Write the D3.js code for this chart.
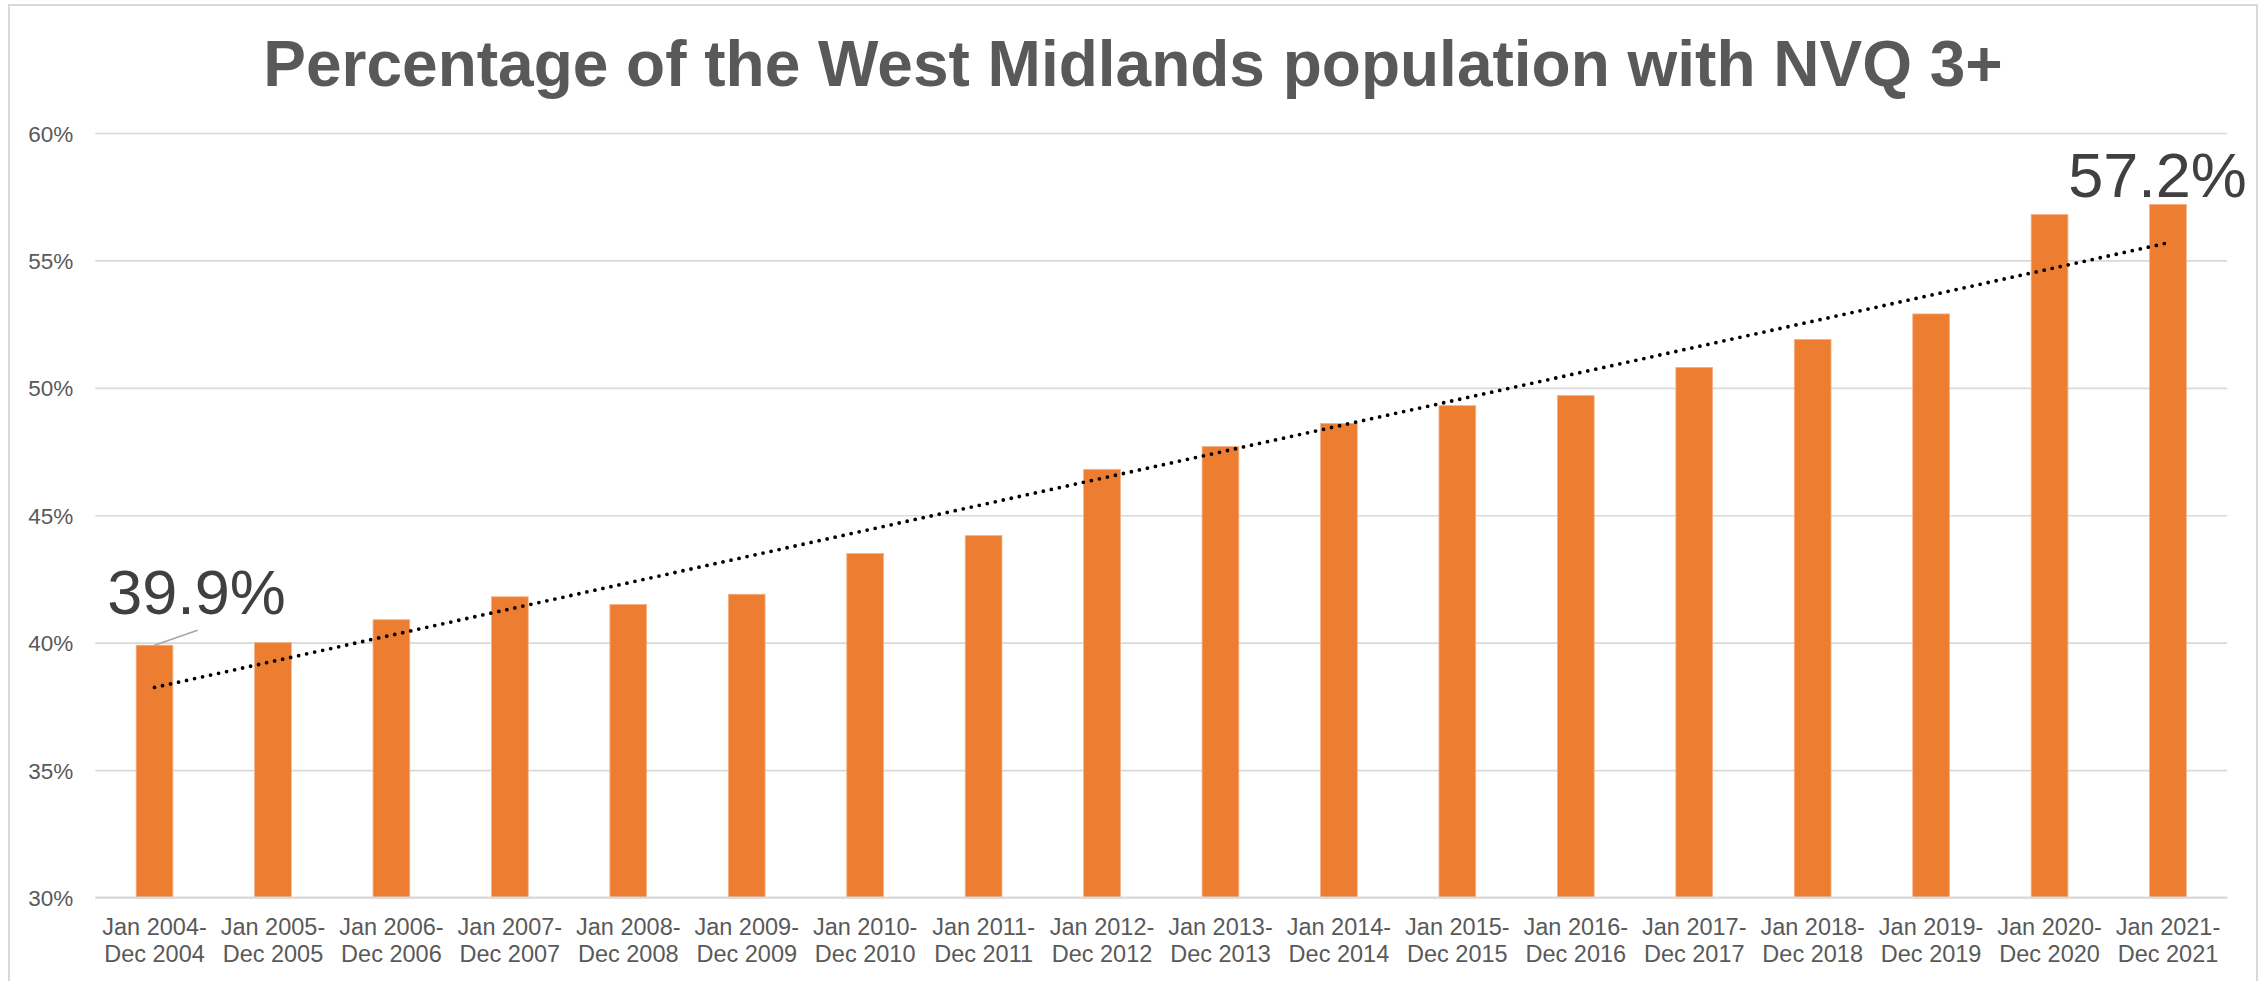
<!DOCTYPE html>
<html>
<head>
<meta charset="utf-8">
<script src="https://cdn.jsdelivr.net/npm/d3@7"></script>
<style>
  html, body { margin: 0; padding: 0; background: #ffffff; }
  svg { display: block; font-family: "Liberation Sans", Arial, sans-serif; }
</style>
</head>
<body>
<svg id="chart" width="2265" height="981"></svg>
<script>
// ---- data ----
const categories = [
  "Jan 2004-|Dec 2004", "Jan 2005-|Dec 2005", "Jan 2006-|Dec 2006", "Jan 2007-|Dec 2007",
  "Jan 2008-|Dec 2008", "Jan 2009-|Dec 2009", "Jan 2010-|Dec 2010", "Jan 2011-|Dec 2011",
  "Jan 2012-|Dec 2012", "Jan 2013-|Dec 2013", "Jan 2014-|Dec 2014", "Jan 2015-|Dec 2015",
  "Jan 2016-|Dec 2016", "Jan 2017-|Dec 2017", "Jan 2018-|Dec 2018", "Jan 2019-|Dec 2019",
  "Jan 2020-|Dec 2020", "Jan 2021-|Dec 2021"
];
const values = [39.9, 40.0, 40.9, 41.8, 41.5, 41.9, 43.5, 44.2, 46.8, 47.7, 48.6, 49.3, 49.7, 50.8, 51.9, 52.9, 56.8, 57.2];
const yTicks = [30, 35, 40, 45, 50, 55, 60];
const labelledIdx = [0, 17];
const titleText = "Percentage of the West Midlands population with NVQ 3+";

(function () {
// ---- layout ----
const svg = d3.select("#chart");
const plotL = 95.3, plotR = 2227.2, plotT = 133, plotB = 897.5;

// frame
svg.append("rect")
  .attr("x", 9).attr("y", 5).attr("width", 2248).attr("height", 1000)
  .attr("fill", "none").attr("stroke", "#d9d9d9").attr("stroke-width", 2);

const x = d3.scaleBand().domain(categories).range([plotL, plotR])
  .paddingInner(0.69).paddingOuter(0.345);
const y = d3.scaleLinear().domain([30, 60]).range([plotB, plotT]);

// title
svg.append("text")
  .attr("x", 1133).attr("y", 86)
  .attr("text-anchor", "middle")
  .attr("font-size", 64).attr("font-weight", "bold")
  .attr("fill", "#595959")
  .text(titleText);

// y axis with gridlines
const yAxis = svg.append("g")
  .attr("transform", `translate(${plotL},0)`)
  .call(d3.axisLeft(y).tickValues(yTicks).tickSize(-(plotR - plotL)).tickPadding(22)
    .tickFormat(d => d + "%"));
yAxis.select(".domain").remove();
yAxis.selectAll(".tick line").attr("stroke", "#d9d9d9").attr("stroke-width", 1.6);
yAxis.selectAll(".tick text")
  .attr("font-size", 22.5).attr("fill", "#595959")
  .attr("font-family", "'Liberation Sans', Arial, sans-serif")
  .attr("dy", "0.36em");

// bars
svg.append("g").selectAll("rect")
  .data(values)
  .join("rect")
  .attr("x", (d, i) => x(categories[i]))
  .attr("y", d => y(d))
  .attr("width", x.bandwidth())
  .attr("height", d => y(30) - y(d))
  .attr("fill", "#ed7d31")
  .attr("stroke", "#f4b183").attr("stroke-width", 0.8);

// x axis
const xAxis = svg.append("g")
  .attr("transform", `translate(0,${plotB})`)
  .call(d3.axisBottom(x).tickSize(0).tickFormat(""));
xAxis.select(".domain").attr("stroke", "#d9d9d9").attr("stroke-width", 2.2)
  .attr("d", `M${plotL},0H${plotR}`);
xAxis.selectAll(".tick text").remove();
xAxis.selectAll(".tick").each(function(d) {
  const parts = d.split("|");
  const t = d3.select(this).append("text")
    .attr("text-anchor", "middle")
    .attr("font-size", 23.5).attr("fill", "#595959")
    .attr("font-family", "'Liberation Sans', Arial, sans-serif");
  t.append("tspan").attr("x", 0).attr("y", 37.5).text(parts[0]);
  t.append("tspan").attr("x", 0).attr("y", 64.2).text(parts[1]);
});

// linear trendline (least squares from the values)
const n = values.length;
const xs = d3.range(1, n + 1);
const mx = d3.mean(xs), my = d3.mean(values);
const slope = d3.sum(xs, (xi, i) => (xi - mx) * (values[i] - my)) / d3.sum(xs, xi => (xi - mx) ** 2);
const intercept = my - slope * mx;
const cx = i => x(categories[i]) + x.bandwidth() / 2;
svg.append("line")
  .attr("x1", cx(0)).attr("y1", y(intercept + slope * 1))
  .attr("x2", cx(n - 1)).attr("y2", y(intercept + slope * n))
  .attr("stroke", "#000").attr("stroke-width", 3.8)
  .attr("stroke-linecap", "round").attr("stroke-dasharray", "0,8.2");

// data labels
const labelOffsets = { 0: { dx: 42, dy: -31, leader: true }, 17: { dx: -10.5, dy: -7, leader: false } };
labelledIdx.forEach(i => {
  const o = labelOffsets[i];
  const bx = cx(i), by = y(values[i]);
  if (o.leader) {
    svg.append("line")
      .attr("x1", bx).attr("y1", by)
      .attr("x2", bx + 43).attr("y2", by - 15)
      .attr("stroke", "#a6a6a6").attr("stroke-width", 1.6);
  }
  svg.append("text")
    .attr("x", bx + o.dx).attr("y", by + o.dy)
    .attr("text-anchor", "middle")
    .attr("font-size", 63).attr("fill", "#404040")
    .text(values[i].toFixed(1) + "%");
});
})();
</script>
</body>
</html>
